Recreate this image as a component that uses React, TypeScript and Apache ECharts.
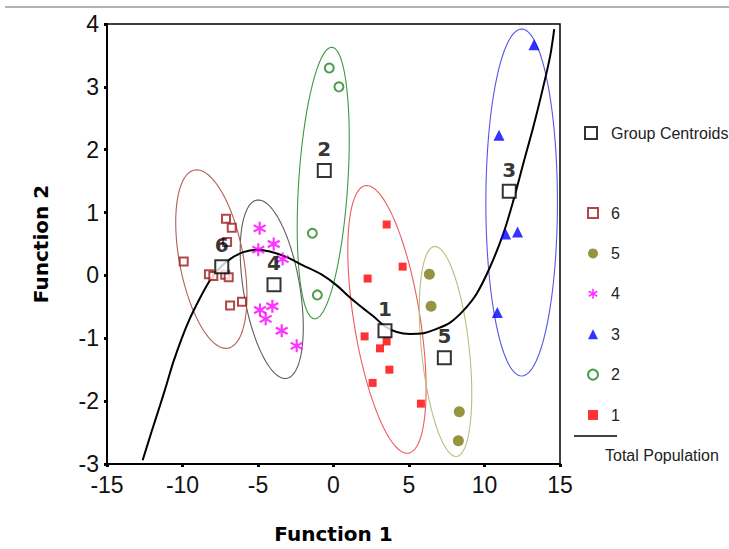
import React, { useEffect, useRef } from "react";
import * as echarts from "echarts";

// ---- data ----
const group1 = [[3.52, 0.81], [4.58, 0.14], [2.26, -0.05], [2.06, -0.97], [3.52, -1.05], [3.08, -1.16], [3.70, -1.50], [2.59, -1.71], [5.79, -2.04]];
const group2 = [[-0.28, 3.30], [0.36, 3.00], [-1.40, 0.67], [-1.07, -0.31]];
const group3 = [[13.28, 3.67], [10.96, 2.23], [11.40, 0.66], [12.19, 0.69], [10.85, -0.59]];
const group4 = [[-4.89, 0.75], [-3.96, 0.50], [-4.98, 0.41], [-3.37, 0.26], [-4.87, -0.55], [-4.05, -0.49], [-4.49, -0.69], [-3.43, -0.88], [-2.44, -1.12]];
const group5 = [[6.35, 0.02], [6.46, -0.49], [8.33, -2.17], [8.27, -2.63]];
const group6 = [[-7.12, 0.90], [-6.74, 0.76], [-7.05, 0.53], [-9.92, 0.22], [-8.25, 0.02], [-7.96, -0.01], [-7.17, 0.01], [-6.94, -0.03], [-6.85, -0.48], [-6.06, -0.42]];

const centroidLabels = ["1", "2", "3", "4", "5", "6"];
const centroidX = [3.41, -0.61, 11.64, -3.94, 7.34, -7.40];
const centroidY = [-0.88, 1.67, 1.34, -0.15, -1.31, 0.14];

// ellipses (groups 1..6): centre, topmost point, half horizontal chord through centre
const ellipseCX = [3.54, -0.68, 12.46, -4.09, 7.42, -8.09];
const ellipseCY = [-0.70, 1.47, 1.16, -0.22, -1.21, 0.26];
const ellipseTopX = [2.20, -0.12, 12.46, -4.98, 6.72, -9.06];
const ellipseTopY = [1.43, 3.63, 3.92, 1.20, 0.46, 1.68];
const ellipseHalfW = [2.22, 1.63, 2.37, 1.89, 1.59, 2.15];

const curveX = [-12.64, -12.04, -11.49, -11.05, -10.61, -10.05, -9.50, -8.84, -8.29, -7.74, -6.85, -5.97, -5.09, -4.21, -3.11, -2.02, -0.83, 0.17, 1.09, 1.95, 2.64, 3.41, 4.19, 5.07, 5.95, 6.83, 7.72, 8.60, 9.48, 10.36, 11.24, 11.91, 12.57, 13.23, 13.89, 14.34, 14.62];
const curveY = [-2.94, -2.48, -2.07, -1.73, -1.38, -1.00, -0.68, -0.36, -0.12, 0.07, 0.26, 0.37, 0.41, 0.38, 0.29, 0.16, 0.02, -0.15, -0.35, -0.52, -0.65, -0.81, -0.90, -0.93, -0.92, -0.85, -0.75, -0.56, -0.29, 0.13, 0.66, 1.19, 1.78, 2.36, 3.00, 3.48, 3.92];

const legendOrder = ["6", "5", "4", "3", "2", "1"];

// ---- styles ----
const ellipseColors = ["#EE5C5C", "#3E9A3E", "#5656E4", "#5E5E5E", "#BDBD7E", "#B25E5A"];
const FONT = "'Liberation Sans', Arial, sans-serif";
const BOLD = "'DejaVu Sans', 'Liberation Sans', sans-serif";
const asterisk =
  "path://M0.42 0L0.58 0L0.58 1L0.42 1Z M0.027 0.319L0.107 0.181L0.973 0.681L0.893 0.819Z M0.107 0.819L0.027 0.681L0.893 0.181L0.973 0.319Z";

export default function App() {
  const ref = useRef<HTMLDivElement>(null);
  useEffect(() => {
    if (!ref.current) return;
    const chart = echarts.init(ref.current, null, { renderer: "svg" });

    const ellipseData = ellipseCX.map((cx, i) => [cx, ellipseCY[i], ellipseTopX[i], ellipseTopY[i], ellipseHalfW[i], i]);
    const centroidData = centroidX.map((x, i) => [x, centroidY[i], i]);
    const curveData = curveX.map((x, i) => [x, curveY[i]]);

    const scatter = (name: string, data: number[][], symbol: string, size: number, color: string, extra: any = {}) => ({
      name,
      type: "scatter",
      data,
      symbol,
      symbolSize: size,
      z: 3,
      itemStyle: { color, ...extra },
    });

    const option: any = {
      animation: false,
      backgroundColor: "#fff",
      textStyle: { fontFamily: FONT },
      grid: {
        left: 107,
        top: 24,
        width: 453,
        height: 440,
        containLabel: false,
        outerBoundsMode: "none",
        show: true,
        borderColor: "#000",
        borderWidth: 1.5,
        backgroundColor: "transparent",
      },
      xAxis: {
        type: "value",
        min: -15,
        max: 15,
        interval: 5,
        name: "Function 1",
        nameLocation: "middle",
        nameGap: 60,
        nameTextStyle: { fontFamily: BOLD, fontWeight: "bold", fontSize: 20, color: "#000" },
        axisLine: { onZero: false, lineStyle: { color: "#000", width: 2 } },
        axisTick: { show: true, length: 3, lineStyle: { color: "#000", width: 3 } },
        axisLabel: { fontSize: 23, color: "#111", margin: 9, fontFamily: FONT },
        splitLine: { show: false },
      },
      yAxis: {
        type: "value",
        min: -3,
        max: 4,
        interval: 1,
        name: "Function 2",
        nameLocation: "middle",
        nameGap: 56,
        nameTextStyle: { fontFamily: BOLD, fontWeight: "bold", fontSize: 20, color: "#000" },
        axisLine: { onZero: false, lineStyle: { color: "#000", width: 2 } },
        axisTick: { show: true, length: 3, lineStyle: { color: "#000", width: 3 } },
        axisLabel: { fontSize: 23, color: "#111", margin: 8, fontFamily: FONT },
        splitLine: { show: false },
      },
      legend: [
        {
          data: ["Group Centroids"],
          orient: "vertical",
          left: 579,
          top: 120,
          itemWidth: 12,
          itemHeight: 12,
          selectedMode: false,
          textStyle: { fontSize: 16, color: "#222", fontFamily: FONT, padding: [0, 0, 0, 9] },
        },
        {
          data: legendOrder,
          orient: "vertical",
          left: 582,
          top: 200,
          itemWidth: 10,
          itemHeight: 10,
          itemGap: 24.4,
          selectedMode: false,
          textStyle: { fontSize: 16, lineHeight: 16, color: "#222", fontFamily: FONT, padding: [0, 0, 0, 8] },
        },
      ],
      graphic: [
        { type: "line", shape: { x1: 5, y1: 7, x2: 729, y2: 7 }, style: { stroke: "#9a9a9a", lineWidth: 1.5 } },
        { type: "line", shape: { x1: 574, y1: 436, x2: 617, y2: 436 }, style: { stroke: "#000", lineWidth: 1.5 } },
        { type: "text", x: 605, y: 455, style: { text: "Total Population", font: `16px ${FONT}`, fill: "#222", textVerticalAlign: "middle" } },
      ],
      series: [
        {
          type: "custom",
          name: "ellipses",
          silent: true,
          z: 1,
          data: ellipseData,
          encode: { x: 0, y: 1 },
          renderItem: (params: any, api: any) => {
            const cx = api.value(0), cy = api.value(1);
            const ux = api.value(2) - cx, uy = api.value(3) - cy;
            const w = api.value(4);
            const pts: number[][] = [];
            const n = 120;
            for (let k = 0; k < n; k++) {
              const t = (2 * Math.PI * k) / n;
              pts.push(api.coord([cx + ux * Math.cos(t) + w * Math.sin(t), cy + uy * Math.cos(t)]));
            }
            return {
              type: "polygon",
              shape: { points: pts },
              style: { fill: "none", stroke: ellipseColors[params.dataIndex], lineWidth: 1.1 },
            };
          },
        },
        {
          name: "Total Population",
          type: "line",
          data: curveData,
          smooth: 0.3,
          showSymbol: false,
          z: 2,
          lineStyle: { color: "#000", width: 2 },
        },
        scatter("1", group1, "rect", 8, "#FF0000"),
        scatter("2", group2, "emptyCircle", 9, "#1E841E", { borderWidth: 1.5 }),
        scatter("3", group3, "triangle", 11, "#0000FF"),
        scatter("4", group4, asterisk, 13, "#FF00FF"),
        scatter("5", group5, "circle", 11, "#7B7B12"),
        scatter("6", group6, "emptyRect", 8, "#9B1C1C", { borderWidth: 1.5 }),
        {
          name: "Group Centroids",
          type: "scatter",
          data: centroidData,
          symbol: "emptyRect",
          symbolSize: 13,
          z: 4,
          itemStyle: { color: "#000", borderWidth: 1.5 },
          label: {
            show: true,
            position: "top",
            distance: 4,
            formatter: (p: any) => centroidLabels[p.dataIndex],
            fontSize: 20,
            fontWeight: "bold",
            color: "#000",
            fontFamily: BOLD,
          },
        },
      ],
    };
    chart.setOption(option);
    return () => chart.dispose();
  }, []);

  return <div ref={ref} style={{ position: "fixed", left: 0, top: 0, width: 729, height: 549 }} />;
}
